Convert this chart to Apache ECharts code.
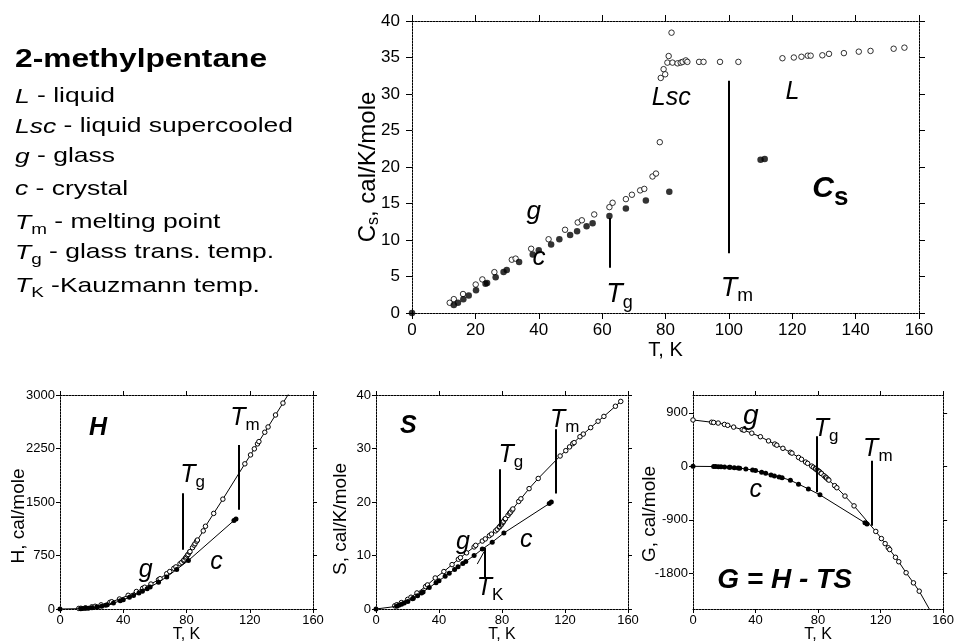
<!DOCTYPE html>
<html><head><meta charset="utf-8">
<script src="https://cdn.jsdelivr.net/npm/echarts@6/dist/echarts.min.js"></script>
<style>html,body{margin:0;padding:0;background:#fff}#c{width:957px;height:644px}</style>
</head><body><div id="c"></div>
<script>
// ---------------- data ----------------
// temperatures (K) of the open-circle points: glass -> supercooled liquid -> liquid
const T_GLASS = [11.9,13.2,16.1,20.1,22.2,26,31.5,32.7,37.6,43.1,48.3,52.3,53.6,57.5,62.3,63.3,67.5,69.4,72,73.3,75.9,77,78.2,78.5,79.4,79.9,80.6,81,81.9,82.2,83.8,84.8,85.4,86.4,86.9,90.6,92,97.2,103,116.9,120.5,122.9,124.9,125.8,129.5,131.6,136.3,141,144.7,152,155.4];
const CS_GLASS = [1.4,1.9,2.6,3.9,4.6,5.6,7.3,7.45,8.8,10.1,11.4,12.4,12.7,13.5,14.5,15.1,15.6,16.2,16.8,17.0,18.7,19.1,23.4,32.2,33.4,32.7,34.3,35.2,38.4,34.3,34.2,34.3,34.4,34.6,34.4,34.4,34.4,34.4,34.4,34.9,35.0,35.1,35.25,35.25,35.3,35.5,35.6,35.8,35.9,36.2,36.35];
const H_GLASS = [8,10,17,30,38,58,92,102,140,192,245,290,305,350,410,425,495,525,570,590,635,655,680,690,715,730,752,765,795,805,860,895,915,950,967,1095,1160,1340,1540,2035,2160,2245,2315,2347,2478,2552,2720,2887,3020,null,null];
const S_GLASS = [0.6,0.8,1.2,1.8,2.2,3.0,4.2,4.5,5.8,7.0,8.3,9.3,9.6,10.5,11.6,11.9,12.7,13.1,13.7,14.0,14.6,14.9,15.3,15.4,15.7,15.9,16.2,16.4,16.8,16.9,17.5,17.9,18.1,18.5,18.7,20.1,20.6,22.5,24.4,28.6,29.6,30.3,30.9,31.1,32.2,32.7,33.9,35.1,36.0,37.9,38.8];
const G_GLASS_AT_0 = 780;
const G_GLASS = [742,738,728,705,690,660,618,608,558,498,428,375,356,303,236,222,150,118,72,50,4,-16,-38,-45,-62,-72,-86,-95,-115,-122,-158,-182,-196,-220,-232,-325,-360,-500,-665,-1095,-1215,-1300,-1370,-1400,-1530,-1605,-1790,-1960,-2100,-2440,null];

// temperatures (K) of the filled points: crystal
const T_CRYST = [0,13.2,14.5,16.2,17.9,20.2,23.2,23.7,26.4,28.9,29.9,33.8,38.1,40,43.9,46.5,49.9,52.1,55.1,57,62.3,67.5,73.8,81.2,110,111.3];
const CS_CRYST = [0,1.1,1.4,1.9,2.4,3.1,4.0,4.1,4.9,5.6,5.9,7.0,8.0,8.6,9.4,10.1,10.7,11.2,11.9,12.3,13.3,14.3,15.4,16.6,21.0,21.1];
const H_CRYST = [0,5,7,9,12,17,27,29,40,53,58,83,115,130,165,190,225,250,285,307,375,450,555,680,1240,1262];
const S_CRYST = [0,0.5,0.7,0.9,1.1,1.4,1.9,2.0,2.5,3.0,3.2,4.0,4.9,5.3,6.1,6.7,7.4,7.9,8.5,8.9,10.0,11.2,12.5,14.2,19.7,20.0];
const G_CRYST = [0,-3,-4,-6,-8,-11,-16,-17,-23,-29,-32,-44,-62,-72,-100,-118,-145,-162,-180,-190,-235,-300,-380,-480,-950,-970];

// tick values
const CS_X_TICKS = [0,20,40,60,80,100,120,140,160];
const CS_Y_TICKS = [0,5,10,15,20,25,30,35,40];
const B_X_TICKS = [0,40,80,120,160];
const H_TICKS = [0,750,1500,2250,3000];
const S_TICKS = [0,10,20,30,40];
const G_TICKS = [-1800,-900,0,900];
const G_RANGE = [-2400,1200];

// vertical marker lines [T, from, to]
const CS_VLINES = [[62.5,13.0,6.2],[100,31.8,8.2]];
const H_VLINES = [[77.8,1624,830],[112.9,2300,1390]];
const S_VLINES = [[78.3,26.1,15.4],[114,33.6,21.6],[69.2,11.5,6.0]];
const S_TK_POINTER = [[64.3,8.4],[68.6,10.7]];
const G_VLINES = [[78.9,505,-438],[114.1,95,-1000]];

// ---------------- chart ----------------
const FONT = '"Liberation Sans", Arial, Helvetica, sans-serif';
const AXLINE = {color:'#000', width:1, type:[2,1]};
const zip = (xs, ys) => xs.map((x,i)=>[x, ys[i]]).filter(p => p[1] !== null);
const plain = v => String(v);

function xAxes(gi, ticks, o) {
  const base = {type:'value', gridIndex:gi, min:ticks[0], max:ticks[ticks.length-1], interval:ticks[1]-ticks[0],
    splitLine:{show:false}, axisLine:{show:true,onZero:false,lineStyle:AXLINE},
    axisTick:{show:true,inside:false,length:o.tick,lineStyle:{color:'#000',width:1}}};
  return [
    Object.assign({}, base, {position:'bottom',
      axisLabel:{show:true,fontSize:o.fs,margin:o.margin,color:'#000',fontFamily:FONT,formatter:plain},
      name:o.name, nameLocation:'middle', nameGap:o.nameGap, nameMoveOverlap:false,
      nameTextStyle:{fontSize:o.nameFs,color:'#000',fontFamily:FONT}}),
    Object.assign({}, base, {position:'top', axisLabel:{show:false}})
  ];
}
function yAxes(gi, ticks, range, o) {
  const custom = !!range;
  const base = {type:'value', gridIndex:gi, min: custom ? range[0] : ticks[0], max: custom ? range[1] : ticks[ticks.length-1],
    splitLine:{show:false}, axisLine:{show:true,onZero:false,lineStyle:AXLINE}};
  if (!custom) base.interval = ticks[1]-ticks[0];
  const tick = {show:true,inside:false,length:o.tick,lineStyle:{color:'#000',width:1}};
  const label = {show:true,fontSize:o.fs,margin:o.margin,color:'#000',fontFamily:FONT,formatter:plain};
  if (custom) { tick.customValues = ticks; label.customValues = ticks; }
  return [
    Object.assign({}, base, {position:'left', axisTick:tick, axisLabel:label,
      name:o.name, nameLocation:'middle', nameGap:o.nameGap, nameRotate:90, nameMoveOverlap:false,
      nameTextStyle:Object.assign({fontSize:o.nameFs,color:'#000',fontFamily:FONT, padding:[0, o.shift||0, 0, 0]}, o.nameRich ? {rich:o.nameRich} : {})}),
    Object.assign({}, base, {position:'right', axisTick:Object.assign({}, tick), axisLabel:{show:false}})
  ];
}
function vlines(list, width, extra) {
  const data = list.map(([t,a,b]) => [{coord:[t,a]},{coord:[t,b]}]);
  if (extra) data.push([{coord:extra[0], lineStyle:{width:1}},{coord:extra[1]}]);
  return {silent:true, symbol:['none','none'], label:{show:false}, animation:false,
    lineStyle:{color:'#000',width:width,type:'solid'}, emphasis:{disabled:true}, data};
}
const OPEN = {color:'#fff', borderColor:'#000', borderWidth:1};
const FILLED = {color:'#000', borderColor:'#000', borderWidth:0};

const xs = [].concat(
  xAxes(0, CS_X_TICKS, {tick:6, fs:17, margin:9, name:'T, K', nameGap:27, nameFs:20}),
  xAxes(1, B_X_TICKS, {tick:4, fs:13, margin:5, name:'T, K', nameGap:18, nameFs:16}),
  xAxes(2, B_X_TICKS, {tick:4, fs:13, margin:5, name:'T, K', nameGap:18, nameFs:16}),
  xAxes(3, B_X_TICKS, {tick:4, fs:13, margin:5, name:'T, K', nameGap:18, nameFs:16})
);
const ys = [].concat(
  yAxes(0, CS_Y_TICKS, null, {tick:6, fs:17, margin:12, name:'{a|C}{s|s}{a|, cal/K/mole}', nameGap:30, nameFs:24,
     nameRich:{a:{fontSize:24,fontFamily:FONT,color:'#000'}, s:{fontSize:16,fontFamily:FONT,color:'#000',padding:[12,0,0,0]}}}),
  yAxes(1, H_TICKS, null, {tick:4, fs:13, margin:5, name:'H, cal/mole', nameGap:32, nameFs:19, shift:28}),
  yAxes(2, S_TICKS, null, {tick:4, fs:13, margin:5, name:'S, cal/K/mole', nameGap:26, nameFs:19, shift:34}),
  yAxes(3, G_TICKS, G_RANGE, {tick:4, fs:13, margin:5, name:'G, cal/mole', nameGap:34, nameFs:19, shift:24})
);

function lineSeries(ai, data, open, ml) {
  const s = {type:'line', xAxisIndex:ai, yAxisIndex:ai, data, symbol:'circle',
    symbolSize: open ? 4.5 : 5, showSymbol:true, lineStyle:{color:'#000',width:1},
    itemStyle: open ? OPEN : FILLED, animation:false, silent:true, z: open ? 3 : 4};
  if (ml) s.markLine = ml;
  return s;
}

const series = [
  {type:'scatter', xAxisIndex:0, yAxisIndex:0, data:zip(T_GLASS, CS_GLASS), symbol:'circle', symbolSize:5.5, itemStyle:OPEN, animation:false, silent:true},
  {type:'scatter', xAxisIndex:0, yAxisIndex:0, data:zip(T_CRYST, CS_CRYST), symbol:'circle', symbolSize:6.5, itemStyle:FILLED, animation:false, silent:true,
   markLine: vlines(CS_VLINES, 2)},
  lineSeries(2, zip(T_GLASS, H_GLASS), true),
  lineSeries(2, zip(T_CRYST, H_CRYST), false, vlines(H_VLINES, 2)),
  lineSeries(4, zip(T_GLASS, S_GLASS), true),
  lineSeries(4, zip(T_CRYST, S_CRYST), false, vlines(S_VLINES, 2, S_TK_POINTER)),
  lineSeries(6, [[0, G_GLASS_AT_0]].concat(zip(T_GLASS, G_GLASS)), true),
  lineSeries(6, zip(T_CRYST, G_CRYST), false, vlines(G_VLINES, 2))
];

const chart = echarts.init(document.getElementById('c'), null, {renderer:'canvas'});
chart.setOption({
  animation:false,
  backgroundColor:'#fff',
  textStyle:{fontFamily:FONT},
  grid:[
    {left:412, top:21, width:507, height:292},
    {left:60, top:395, width:253, height:214},
    {left:376, top:395, width:252, height:214},
    {left:693, top:395, width:253, height:214}
  ],
  xAxis: xs, yAxis: ys, series
});

// ---------------- text annotations (placed in data coordinates) ----------------
function rich(F, f, p) {
  return {
    i:{fontSize:F, fontStyle:'italic', fontFamily:FONT, fill:'#000', color:'#000'},
    b:{fontSize:F, fontStyle:'italic', fontWeight:'bold', fontFamily:FONT, fill:'#000', color:'#000'},
    s:{fontSize:f||F, fontFamily:FONT, fill:'#000', color:'#000', padding:[p||0,0,0,0]},
    bs:{fontSize:f||F, fontWeight:'bold', fontFamily:FONT, fill:'#000', color:'#000', padding:[p||0,0,0,0]}
  };
}
// [axisIndex, T, value, text, mainSize, subSize, subShift]
const NOTES = [
  [0, 36.1, 13.9, '{i|g}', 26],
  [0, 38.0, 7.5, '{i|c}', 26],
  [0, 61.3, 2.5, '{i|T}{s|g}', 27, 18, 16],
  [0, 97.4, 3.4, '{i|T}{s|m}', 27, 19, 16],
  [0, 75.7, 29.4, '{i|Lsc}', 25],
  [0, 117.9, 30.2, '{i|L}', 25],
  [0, 126.3, 17.05, '{b|C}{bs|s}', 30, 26, 19],
  [2, 18.3, 2533, '{b|H}', 25],
  [2, 76.1, 1880, '{i|T}{s|g}', 25, 17, 14],
  [2, 107.7, 2673, '{i|T}{s|m}', 25, 17, 14],
  [2, 49.8, 542, '{i|g}', 25],
  [2, 95, 662, '{i|c}', 25],
  [4, 15.2, 34.1, '{b|S}', 25],
  [4, 77.7, 28.8, '{i|T}{s|g}', 25, 17, 14],
  [4, 110.5, 35.3, '{i|T}{s|m}', 25, 17, 14],
  [4, 50.8, 12.5, '{i|g}', 25],
  [4, 91.4, 12.9, '{i|c}', 25],
  [4, 64, 3.9, '{i|T}{s|K}', 25, 17, 14],
  [6, 32, 840, '{i|g}', 28],
  [6, 77.2, 626, '{i|T}{s|g}', 25, 17, 14],
  [6, 108.8, 290, '{i|T}{s|m}', 25, 17, 14],
  [6, 36.2, -401, '{i|c}', 25],
  [6, 15.5, -1921, '{b|G = H - TS}', 28]
];
const graphics = NOTES.map(([ai, t, v, text, F, f, p]) => {
  const pt = chart.convertToPixel({xAxisIndex:ai, yAxisIndex:ai}, [t, v]);
  return {type:'text', x:pt[0], y:pt[1], silent:true, z:100,
    style:{text, rich:rich(F, f, p), fontSize:F, fontFamily:FONT, fill:'#000', align:'left', verticalAlign:'middle'}};
});

// left description block
const LEFT = [
  ['{t|2-methylpentane}', 60.2, 1.22],
  ['{i|L} - liquid', 96.7, 1.26],
  ['{i|Lsc} - liquid supercooled', 126.7, 1.26],
  ['{i|g} - glass', 156.7, 1.26],
  ['{i|c} - crystal', 189.4, 1.26],
  ['{i|T}{s|m} - melting point', 222.7, 1.26],
  ['{i|T}{s|g} - glass trans. temp.', 252.7, 1.26],
  ['{i|T}{s|K} -Kauzmann temp.', 286, 1.26]
];
LEFT.forEach(([text, y, sx]) => {
  const r = rich(21, 15, 14);
  r.t = {fontSize:26, fontWeight:'bold', fontFamily:FONT, fill:'#000'};
  graphics.push({type:'text', x:15, y, scaleX:sx, silent:true,
    style:{text, rich:r, fontSize:21, fontFamily:FONT, fill:'#000', align:'left', verticalAlign:'middle'}});
});
chart.setOption({graphic: graphics});
</script></body></html>
